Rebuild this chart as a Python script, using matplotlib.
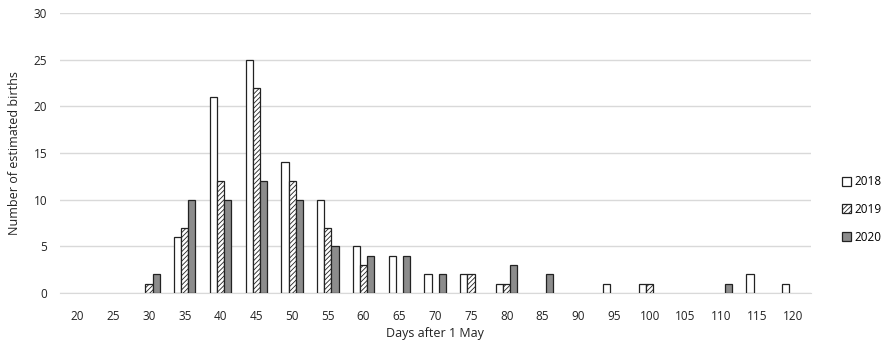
import numpy as np
import matplotlib.pyplot as plt
from matplotlib.patches import Patch

days = [20, 25, 30, 35, 40, 45, 50, 55, 60, 65, 70, 75, 80, 85, 90, 95, 100, 105, 110, 115, 120]
births_2018 = [0, 0, 0, 6, 21, 25, 14, 10, 5, 4, 2, 2, 1, 0, 0, 1, 1, 0, 0, 2, 1]
births_2019 = [0, 0, 1, 7, 12, 22, 12, 7, 3, 0, 0, 2, 1, 0, 0, 0, 1, 0, 0, 0, 0]
births_2020 = [0, 0, 2, 10, 10, 12, 10, 5, 4, 4, 2, 0, 3, 2, 0, 0, 0, 0, 1, 0, 0]
years = ['2018', '2019', '2020']

plt.rcParams['font.family'] = ['Open Sans', 'DejaVu Sans']
plt.rcParams['hatch.linewidth'] = 0.6

fig = plt.figure(figsize=(8.89, 3.49), dpi=100)
ax = fig.add_axes([0.067, 0.16, 0.845, 0.803])

x = np.arange(len(days))
w = 0.2
styles = [
    dict(color='white', hatch=None),
    dict(color='white', hatch='/' * 7),
    dict(color='#8c8c8c', hatch=None),
]
for i, vals in enumerate([births_2018, births_2019, births_2020]):
    v = np.array(vals)
    m = v > 0
    ax.bar(x[m] + (i - 1) * w, v[m], width=w, facecolor=styles[i]['color'],
           edgecolor='#222222', linewidth=0.9, hatch=styles[i]['hatch'], zorder=3)

ax.set_xlim(-0.5, len(days) - 0.5)
ax.set_ylim(0, 30)
ax.set_yticks(range(0, 31, 5))
ax.set_xticks(x)
ax.set_xticklabels([str(d) for d in days])
ax.yaxis.grid(True, color='#d9d9d9', linewidth=1)
ax.set_axisbelow(True)
for s in ['top', 'right', 'left']:
    ax.spines[s].set_visible(False)
ax.spines['bottom'].set_color('#d9d9d9')
ax.tick_params(axis='x', length=0, labelsize=8.5, colors='#222222', pad=12)
ax.tick_params(axis='y', length=0, labelsize=8.5, colors='#222222', pad=9)
ax.set_xlabel('Days after 1 May', fontsize=9, color='#222222', labelpad=3)
ax.set_ylabel('Number of estimated births', fontsize=9, color='#222222', labelpad=9)

handles = [Patch(facecolor=styles[i]['color'], edgecolor='#222222', hatch=styles[i]['hatch'],
                 linewidth=0.9, label=years[i]) for i in range(3)]
fig.legend(handles=handles, loc='center left', bbox_to_anchor=(0.935, 0.4), frameon=False,
           fontsize=8.5, handlelength=0.8, handleheight=0.8, handletextpad=0.3, labelspacing=1.25)

fig.savefig('out.png', dpi=100)
